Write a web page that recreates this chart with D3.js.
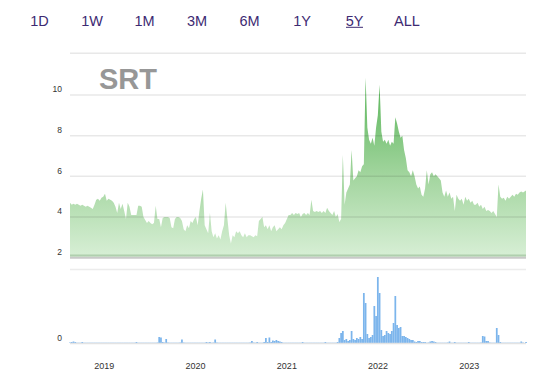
<!DOCTYPE html>
<html>
<head>
<meta charset="utf-8">
<script src="https://cdn.jsdelivr.net/npm/d3@7"></script>
<style>
  html, body { margin: 0; padding: 0; background: #fff; }
  svg { display: block; font-family: "Liberation Sans", Arial, Helvetica, sans-serif; }
</style>
</head>
<body>
<svg id="chart" width="543" height="375"></svg>
<script>
// ---------------- data ----------------
const rangeButtons = ["1D", "1W", "1M", "3M", "6M", "1Y", "5Y", "ALL"];
const activeButton = "5Y";
const ticker = "SRT";
const startDate = "2018-08-17";
const endDate = "2023-08-16";
const priceTicks = [2, 4, 6, 8, 10];
const volumeTicks = [0];
const yearTicks = ["2019", "2020", "2021", "2022", "2023"];

// weekly closing prices (USD)
const prices = [
  4.7, 4.6, 4.65, 4.6, 4.65, 4.6, 4.55, 4.6, 4.55, 4.5,
  4.55, 4.5, 4.45, 4.4, 4.6, 4.85, 4.9, 4.8, 4.95, 5.0,
  5.15, 4.8, 4.9, 4.85, 4.8, 4.7, 4.5, 4.2, 4.7, 4.4,
  4.65, 4.3, 3.9, 4.7, 4.5, 4.1, 4.1, 4.1, 4.1, 4.55,
  4.55, 4.5, 4.0, 3.85, 3.7, 3.8, 3.7, 3.65, 3.7, 4.55,
  3.9, 3.9, 3.5, 3.95, 4.0, 4.0, 4.0, 3.95, 3.5, 3.45,
  3.9, 4.0, 4.0, 3.95, 3.8, 3.4, 3.3, 3.6, 3.45, 3.8,
  3.7, 3.9, 4.0, 3.6, 4.3, 4.9, 5.35, 3.6, 3.4, 3.2,
  4.2, 3.3, 3.0, 3.2, 2.95, 3.1, 2.9, 3.3, 3.6, 4.7,
  3.9, 3.1, 2.7, 3.1, 3.0, 3.3, 3.2, 3.3, 3.1, 3.0,
  3.2, 3.0, 3.1, 3.1, 3.05, 3.0, 3.1, 3.05, 3.8, 3.9,
  4.0, 3.5, 3.6, 3.4, 3.6, 3.3, 3.5, 3.6, 3.3, 3.4,
  3.5, 3.4, 3.6, 3.7, 3.9, 4.1, 4.1, 4.2, 4.1, 4.2,
  4.15, 4.2, 4.0, 4.15, 4.2, 4.1, 4.2, 4.1, 4.85, 4.3,
  4.25, 4.3, 4.25, 4.3, 4.2, 4.3, 4.2, 4.45, 4.3, 4.2,
  4.1, 4.3, 4.0, 4.15, 3.75, 3.9, 7.05, 4.6, 5.2, 5.4,
  5.6, 7.3, 5.8, 5.9, 6.0, 6.3, 6.2, 6.5, 6.6, 10.85,
  8.4, 7.8, 7.6, 7.9, 7.5, 8.4, 9.0, 10.5, 8.2, 7.7,
  7.8, 7.6, 7.8, 7.5, 7.7, 7.6, 8.9, 8.6, 8.2, 7.9,
  8.0, 7.3, 6.9, 6.3, 6.2, 6.0, 6.3, 6.0, 5.6, 5.4,
  5.5, 5.1, 5.0, 5.4, 6.3, 5.6, 6.1, 6.2, 6.0, 6.1,
  6.0, 5.9, 5.8, 5.2, 5.0, 5.3, 5.0, 5.2, 4.9, 5.0,
  4.3, 5.1, 4.9, 4.8, 4.9, 4.6, 5.0, 4.8, 4.9, 4.7,
  4.8, 4.6, 4.6, 4.7, 4.5, 4.6, 4.4, 4.5, 4.3, 4.35,
  4.3, 4.2, 4.3, 4.15, 4.0, 5.6, 5.0, 4.9, 4.95, 4.8,
  5.0, 4.9, 5.0, 5.1, 5.0, 5.15, 5.1, 5.2, 5.25, 5.2,
  5.3
];

// weekly volume (relative units)
const volumes = [
  0.5, 1, 1.5, 1, 0.3, 0.3, 0.3, 1, 0.3, 0.3,
  0.3, 0.3, 0.3, 0.3, 0.3, 0.3, 0.3, 0.3, 0.3, 0.3,
  0.3, 0.3, 0.3, 0.3, 0.3, 0.3, 0.3, 0.3, 0.3, 0.3,
  0.3, 0.3, 0.3, 0.3, 0.3, 0.3, 0.3, 0.3, 1, 0.3,
  0.3, 0.3, 0.3, 0.3, 0.3, 0.3, 0.3, 0.3, 0.3, 0.3,
  0.5, 6, 5.5, 1, 0.5, 4, 0.5, 0.3, 0.3, 0.3,
  0.3, 0.3, 0.3, 0.5, 3.5, 0.5, 0.3, 0.3, 0.3, 0.3,
  0.3, 0.3, 0.3, 0.3, 0.3, 0.3, 0.3, 0.3, 1, 0.5,
  1, 0.3, 0.5, 3.5, 0.5, 0.3, 0.3, 0.3, 0.3, 0.3,
  0.3, 0.3, 0.3, 0.3, 0.3, 0.3, 0.3, 0.3, 0.3, 0.3,
  0.3, 0.3, 0.3, 0.5, 2, 0.5, 0.3, 1, 0.3, 0.3,
  0.3, 1, 5, 1, 5.5, 1, 2.5, 2, 3, 2,
  1.5, 1, 0.3, 0.3, 0.3, 0.3, 0.3, 0.3, 0.3, 0.3,
  0.3, 0.3, 0.3, 1, 0.3, 0.3, 0.3, 0.3, 0.3, 0.3,
  0.3, 0.3, 0.3, 0.3, 0.3, 0.3, 1, 0.3, 0.3, 0.3,
  0.3, 0.3, 0.3, 1, 5, 10, 12, 3, 4, 2,
  3, 12, 4, 3, 5, 4, 6, 4, 50, 40,
  9, 5, 6, 8, 37, 27, 66, 50, 13, 7,
  8, 12, 10, 9, 12, 20, 47, 18, 15, 16,
  7, 7, 6, 5, 4, 3, 3, 1.5, 1, 2,
  2, 1, 1, 1, 0.3, 0.5, 1.5, 2, 1.5, 1,
  0.3, 0.3, 0.3, 0.3, 0.3, 0.3, 0.5, 1.5, 0.3, 0.3,
  1, 0.3, 0.3, 0.3, 0.3, 0.3, 0.3, 0.3, 1, 0.3,
  0.3, 0.3, 0.3, 0.3, 0.3, 0.5, 7, 6.5, 2, 2,
  0.5, 0.3, 0.3, 0.3, 15, 8, 1, 0.3, 0.3, 0.3,
  0.3, 0.3, 0.3, 0.3, 0.3, 0.3, 0.3, 0.3, 1.5, 0.5,
  1
];

// ---------------- build ----------------
const parse = d3.timeParse("%Y-%m-%d");
const t0 = parse(startDate), t1 = parse(endDate);
const n = prices.length;
const dates = prices.map((_, i) => i === n - 1 ? t1 : d3.timeDay.offset(t0, 7 * i));
const series = prices.map((p, i) => ({ date: dates[i], price: p, volume: volumes[i] }));

const svg = d3.select("#chart");
const x = d3.scaleTime().domain([t0, t1]).range([70, 526]);
const y = d3.scaleLinear().domain([2, 12]).range([257.7, 54.3]);
const yv = d3.scaleLinear().domain([0, 74]).range([343, 269]);

// range buttons
const bx = d3.scalePoint().domain(rangeButtons).range([39.5, 407]);
const btn = svg.append("g").attr("class", "buttons");
btn.selectAll("text").data(rangeButtons).join("text")
  .attr("x", d => bx(d)).attr("y", 26)
  .attr("text-anchor", "middle")
  .attr("font-size", 14.5)
  .attr("fill", "#3d2a72")
  .text(d => d);
btn.append("line")
  .attr("x1", bx(activeButton) - 8.5).attr("x2", bx(activeButton) + 8.5)
  .attr("y1", 27.3).attr("y2", 27.3)
  .attr("stroke", "#3d2a72").attr("stroke-width", 1);

// gradient
const defs = svg.append("defs");
const grad = defs.append("linearGradient").attr("id", "pg")
  .attr("gradientUnits", "userSpaceOnUse")
  .attr("x1", 0).attr("x2", 0).attr("y1", y(11)).attr("y2", y(2));
grad.append("stop").attr("offset", 0).attr("stop-color", "#54b354");
grad.append("stop").attr("offset", 0.55).attr("stop-color", "#a2d59e");
grad.append("stop").attr("offset", 1).attr("stop-color", "#d8efd6");

// price area
const area = d3.area()
  .x(d => x(d.date)).y0(y(2)).y1(d => y(d.price))
  .curve(d3.curveLinear);
svg.append("path").datum(series)
  .attr("d", area).attr("fill", "url(#pg)");

// top border of price pane
svg.append("line")
  .attr("x1", x.range()[0]).attr("x2", x.range()[1])
  .attr("y1", y(12) - 1).attr("y2", y(12) - 1)
  .attr("stroke", "#e8e8e8").attr("stroke-width", 1.5);

// gridlines (over the area)
const grid = svg.append("g");
grid.selectAll("line").data(priceTicks.filter(v => v > 2)).join("line")
  .attr("x1", x.range()[0]).attr("x2", x.range()[1])
  .attr("y1", d => y(d)).attr("y2", d => y(d))
  .attr("stroke", "rgba(0,0,0,0.09)").attr("stroke-width", 1.5);
// bottom of price pane
svg.append("line")
  .attr("x1", x.range()[0]).attr("x2", x.range()[1])
  .attr("y1", y(2) - 2.2).attr("y2", y(2) - 2.2)
  .attr("stroke", "rgba(40,100,40,0.22)").attr("stroke-width", 2.2);
svg.append("line")
  .attr("x1", x.range()[0]).attr("x2", x.range()[1])
  .attr("y1", y(2)).attr("y2", y(2))
  .attr("stroke", "#c9c9c9").attr("stroke-width", 2);

// price labels
svg.append("g").selectAll("text").data(priceTicks).join("text")
  .attr("x", 62).attr("y", d => y(d) - 2.7)
  .attr("text-anchor", "end")
  .attr("font-size", 8.5).attr("fill", "#333")
  .text(d => d);

// ticker watermark
svg.append("text")
  .attr("x", 99).attr("y", 89)
  .attr("font-size", 29).attr("font-weight", "bold")
  .attr("fill", "#979797")
  .text(ticker);

// volume pane
svg.append("line")
  .attr("x1", x.range()[0]).attr("x2", x.range()[1])
  .attr("y1", 269.6).attr("y2", 269.6)
  .attr("stroke", "#ececec").attr("stroke-width", 1.5);
const bw = x(dates[1]) - x(dates[0]);
svg.append("g").selectAll("rect").data(series).join("rect")
  .attr("x", d => x(d.date) - bw / 2)
  .attr("width", bw)
  .attr("y", d => yv(d.volume))
  .attr("height", d => yv(0) - yv(d.volume))
  .attr("fill", "#7cb5ec");
svg.append("line")
  .attr("x1", x.range()[0]).attr("x2", x.range()[1])
  .attr("y1", yv(0) + 0.5).attr("y2", yv(0) + 0.5)
  .attr("stroke", "#e3e3e3").attr("stroke-width", 1.5);
svg.append("g").selectAll("text").data(volumeTicks).join("text")
  .attr("x", 62).attr("y", d => yv(d) - 2.3)
  .attr("text-anchor", "end")
  .attr("font-size", 8.5).attr("fill", "#333")
  .text(d => d);

// year labels
svg.append("g").selectAll("text").data(yearTicks).join("text")
  .attr("x", d => x(parse(d + "-01-01")))
  .attr("y", 369)
  .attr("text-anchor", "middle")
  .attr("font-size", 9).attr("fill", "#333")
  .text(d => d);
</script>
</body>
</html>
